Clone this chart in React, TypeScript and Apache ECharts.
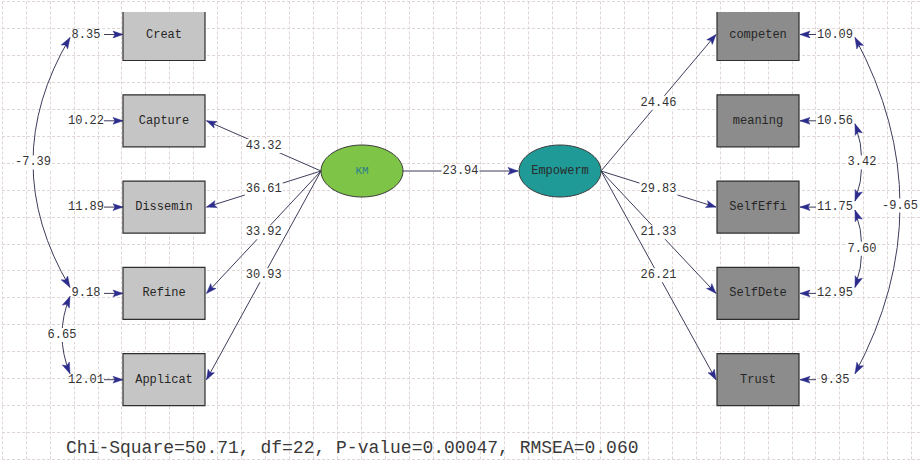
import React, { useEffect, useRef } from "react";
import * as echarts from "echarts";

// ---------------- DATA ----------------
const kmIndicators = ["Creat", "Capture", "Dissemin", "Refine", "Applicat"];
const empIndicators = ["competen", "meaning", "SelfEffi", "SelfDete", "Trust"];
const latentNames = ["KM", "Empowerm"];
const kmLoadingT: (number | null)[] = [null, 43.32, 36.61, 33.92, 30.93];
const empLoadingT: (number | null)[] = [24.46, null, 29.83, 21.33, 26.21];
const kmErrors = [8.35, 10.22, 11.89, 9.18, 12.01];
const empErrors = [10.09, 10.56, 11.75, 12.95, 9.35];
const structuralT = [23.94];
const kmCovPairs = [[0, 3], [3, 4]];
const kmCovValues = [-7.39, 6.65];
const empCovPairs = [[1, 2], [2, 3], [0, 4]];
const empCovValues = [3.42, 7.6, -9.65];
const fitLabels = ["Chi-Square", "df", "P-value", "RMSEA"];
const fitValues = ["50.71", "22", "0.00047", "0.060"];

// ---------------- LAYOUT ----------------
const ROW_Y = [34.5, 120.8, 207.1, 293.4, 379.7];
const BOX_W = 82;
const BOX_H = 52;
const KM_BOX_X = 164;
const EMP_BOX_X = 758;
const KM_ERR_X = 86;
const EMP_ERR_X = 835;
const KM_COV_X = 70;
const EMP_COV_X = 855;
const KM_COV_BULGE = [33, 62];
const EMP_COV_BULGE = [862, 862, 900];
const COV_TOP_OFF = 3;
const COV_BOT_OFF = -6;
const LATENT_POS = [[362, 171], [560, 171]];
const LAT_RX = 41;
const LAT_RY = 26;

// ---------------- STYLE ----------------
const MONO = '"Liberation Mono", "DejaVu Sans Mono", monospace';
const LINE = "#3d3d5c";
const HEAD = "#2c2c8c";
const TXT = "#333333";
const GRID_LINE = "#e0d5d5";

const fmt = (v: number) => v.toFixed(2);

function arrowHead(tip: number[], from: number[], len = 10, half = 3.6, notch = 2.2) {
  const dx = tip[0] - from[0];
  const dy = tip[1] - from[1];
  const d = Math.hypot(dx, dy) || 1;
  const ux = dx / d;
  const uy = dy / d;
  const bx = tip[0] - ux * len;
  const by = tip[1] - uy * len;
  const nx = tip[0] - ux * (len - notch);
  const ny = tip[1] - uy * (len - notch);
  return {
    type: "polygon",
    shape: {
      points: [
        [tip[0], tip[1]],
        [bx - uy * half, by + ux * half],
        [nx, ny],
        [bx + uy * half, by - ux * half],
      ],
    },
    style: { fill: HEAD, stroke: HEAD, lineWidth: 0.5 },
    z2: 5,
  };
}

function numLabel(x: number, y: number, text: string) {
  return {
    type: "text",
    x,
    y,
    z2: 10,
    style: {
      text,
      font: `12px ${MONO}`,
      fill: TXT,
      align: "center",
      verticalAlign: "middle",
      backgroundColor: "#ffffff",
      padding: [1, 1],
    },
  };
}

// rows built from data arrays
const boxRows = [
  ...kmIndicators.map((_, i) => [KM_BOX_X, ROW_Y[i], 0, i]),
  ...empIndicators.map((_, i) => [EMP_BOX_X, ROW_Y[i], 1, i]),
];

const loadingRows: number[][] = [];
kmLoadingT.forEach((t, i) => {
  if (t != null)
    loadingRows.push([LATENT_POS[0][0] - LAT_RX, LATENT_POS[0][1], KM_BOX_X + BOX_W / 2 + 1.5, ROW_Y[i], t]);
});
empLoadingT.forEach((t, i) => {
  if (t != null)
    loadingRows.push([LATENT_POS[1][0] + LAT_RX, LATENT_POS[1][1], EMP_BOX_X - BOX_W / 2 - 1, ROW_Y[i], t]);
});
loadingRows.push([
  LATENT_POS[0][0] + LAT_RX,
  LATENT_POS[0][1],
  LATENT_POS[1][0] - LAT_RX - 1,
  LATENT_POS[1][1],
  structuralT[0],
]);

const errorRows = [
  ...kmErrors.map((v, i) => [KM_ERR_X, ROW_Y[i], KM_BOX_X - BOX_W / 2, v, 0]),
  ...empErrors.map((v, i) => [EMP_ERR_X, ROW_Y[i], EMP_BOX_X + BOX_W / 2 + 1, v, 1]),
];

const covRows = [
  ...kmCovPairs.map((p, i) => [KM_COV_X, ROW_Y[p[0]] + COV_TOP_OFF, ROW_Y[p[1]] + COV_BOT_OFF, KM_COV_BULGE[i], kmCovValues[i]]),
  ...empCovPairs.map((p, i) => [EMP_COV_X, ROW_Y[p[0]] + COV_TOP_OFF, ROW_Y[p[1]] + COV_BOT_OFF, EMP_COV_BULGE[i], empCovValues[i]]),
];

const latentRows = latentNames.map((_, i) => [LATENT_POS[i][0], LATENT_POS[i][1], i]);

export default function App() {
  const ref = useRef<HTMLDivElement>(null);
  useEffect(() => {
    if (!ref.current) return;
    const chart = echarts.init(ref.current, undefined, { renderer: "svg" });
    const diag = { coordinateSystem: "cartesian2d", xAxisIndex: 1, yAxisIndex: 1, clip: true, animation: false };
    const option: any = {
      animation: false,
      backgroundColor: "#ffffff",
      title: {
        text: fitLabels.map((l, i) => `${l}=${fitValues[i]}`).join(", "),
        left: 66,
        top: 439,
        padding: 0,
        textStyle: { fontFamily: MONO, fontSize: 18, fontWeight: "normal", color: "#3a3a3a" },
      },
      grid: [
        { left: 2.07, top: 1.4, right: 0, bottom: 0 },
        { left: 0, top: 12, right: 0, bottom: 0 },
      ],
      xAxis: [
        {
          type: "value", gridIndex: 0, min: 0, max: 917.93, interval: 23.93,
          axisLine: { show: false }, axisTick: { show: false }, axisLabel: { show: false },
          splitLine: { show: true, lineStyle: { color: GRID_LINE, width: 1, type: [3, 2] } },
        },
        { type: "value", gridIndex: 1, min: 0, max: 920, show: false },
      ],
      yAxis: [
        {
          type: "value", gridIndex: 0, min: 0, max: 459.6, interval: 26.93, inverse: true,
          axisLine: { show: false }, axisTick: { show: false }, axisLabel: { show: false },
          splitLine: { show: true, lineStyle: { color: GRID_LINE, width: 1, type: [3, 2] } },
        },
        { type: "value", gridIndex: 1, min: 12, max: 461, inverse: true, show: false },
      ],
      series: [
        // loadings / structural path
        {
          ...diag,
          type: "custom",
          z: 2,
          data: loadingRows,
          renderItem: (_p: any, api: any) => {
            const a = api.coord([api.value(0), api.value(1)]);
            const b = api.coord([api.value(2), api.value(3)]);
            return {
              type: "group",
              children: [
                { type: "line", shape: { x1: a[0], y1: a[1], x2: b[0], y2: b[1] }, style: { stroke: LINE, lineWidth: 1 } },
                arrowHead(b, a),
                numLabel((a[0] + b[0]) / 2, (a[1] + b[1]) / 2, fmt(api.value(4))),
              ],
            };
          },
        },
        // error variances
        {
          ...diag,
          type: "custom",
          z: 2,
          data: errorRows,
          renderItem: (_p: any, api: any) => {
            const c = api.coord([api.value(0), api.value(1)]);
            const tip = api.coord([api.value(2), api.value(1)]);
            const side = api.value(4);
            const start = side === 0 ? [c[0] + 18, c[1]] : [c[0] - 19, c[1]];
            return {
              type: "group",
              children: [
                { type: "line", shape: { x1: start[0], y1: start[1], x2: tip[0], y2: tip[1] }, style: { stroke: LINE, lineWidth: 1 } },
                arrowHead(tip, start, 10, 3.4, 2),
                {
                  type: "text", x: c[0], y: c[1], z2: 3,
                  style: { text: fmt(api.value(3)), font: `12px ${MONO}`, fill: TXT, align: "center", verticalAlign: "middle" },
                },
              ],
            };
          },
        },
        // covariances
        {
          ...diag,
          type: "custom",
          z: 3,
          data: covRows,
          renderItem: (_p: any, api: any) => {
            const x0 = api.value(0);
            const yt = api.value(1);
            const yb = api.value(2);
            const bulge = api.value(3);
            const ym = (yt + yb) / 2;
            const p0 = api.coord([x0, yt]);
            const p1 = api.coord([x0, yb]);
            const cp = api.coord([2 * bulge - x0, ym]);
            const mid = api.coord([bulge, ym]);
            return {
              type: "group",
              children: [
                {
                  type: "bezierCurve",
                  shape: { x1: p0[0], y1: p0[1], x2: p1[0], y2: p1[1], cpx1: cp[0], cpy1: cp[1] },
                  style: { stroke: LINE, lineWidth: 1, fill: "none" },
                },
                arrowHead(p0, cp, 11, 3.8, 2.4),
                arrowHead(p1, cp, 11, 3.8, 2.4),
                numLabel(mid[0], mid[1], fmt(api.value(4))),
              ],
            };
          },
        },
        // observed variables
        {
          ...diag,
          type: "custom",
          z: 4,
          data: boxRows,
          renderItem: (_p: any, api: any) => {
            const cx = api.value(0);
            const cy = api.value(1);
            const side = api.value(2);
            const idx = api.value(3);
            const tl = api.coord([cx - BOX_W / 2, cy - BOX_H / 2]);
            const br = api.coord([cx + BOX_W / 2, cy + BOX_H / 2]);
            const c = api.coord([cx, cy]);
            const name = side === 0 ? kmIndicators[idx] : empIndicators[idx];
            return {
              type: "group",
              children: [
                {
                  type: "rect",
                  shape: { x: tl[0], y: tl[1], width: br[0] - tl[0], height: br[1] - tl[1] },
                  style: { fill: side === 0 ? "#c5c5c5" : "#8c8c8c", stroke: "#2e2e2e", lineWidth: 1.2 },
                },
                {
                  type: "text", x: c[0], y: c[1],
                  style: { text: name, font: `12px ${MONO}`, fill: "#262626", align: "center", verticalAlign: "middle" },
                },
              ],
            };
          },
        },
        // latent variables
        {
          ...diag,
          type: "custom",
          z: 4,
          data: latentRows,
          renderItem: (_p: any, api: any) => {
            const i = api.value(2);
            const c = api.coord([api.value(0), api.value(1)]);
            return {
              type: "group",
              children: [
                {
                  type: "ellipse",
                  shape: { cx: c[0], cy: c[1], rx: LAT_RX, ry: LAT_RY },
                  style: { fill: i === 0 ? "#7ec446" : "#1f9a97", stroke: "#3a3a3a", lineWidth: 1 },
                },
                {
                  type: "text", x: c[0], y: c[1],
                  style: {
                    text: latentNames[i], font: `${i === 0 ? 11 : 12}px ${MONO}`,
                    fill: i === 0 ? "#2d7f8c" : "#2a2a2a", align: "center", verticalAlign: "middle",
                  },
                },
              ],
            };
          },
        },
      ],
    };
    chart.setOption(option);
    return () => chart.dispose();
  }, []);
  return <div ref={ref} style={{ position: "fixed", left: 0, top: 0, width: 920, height: 461 }} />;
}
